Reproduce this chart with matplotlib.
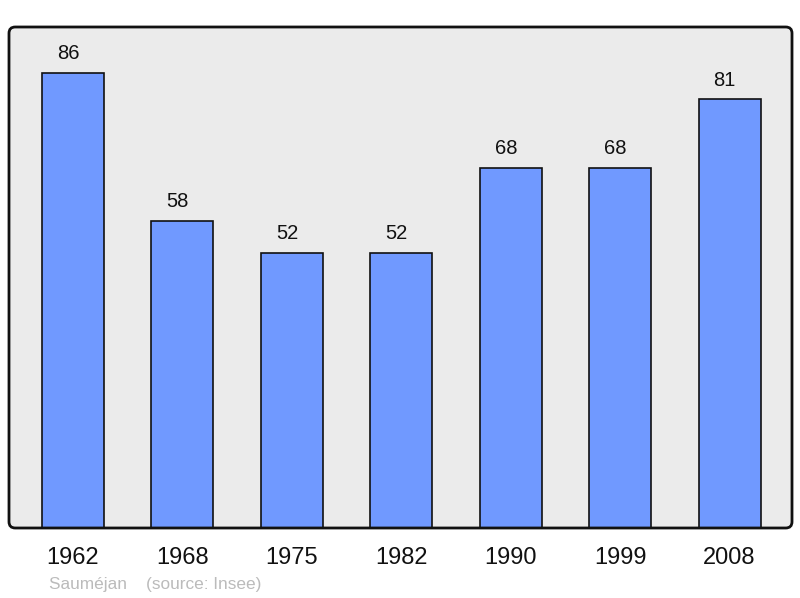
import matplotlib
matplotlib.use("Agg")
import matplotlib.pyplot as plt
from matplotlib.patches import FancyBboxPatch

years = ["1962", "1968", "1975", "1982", "1990", "1999", "2008"]
population = [86, 58, 52, 52, 68, 68, 81]

plt.rcParams['font.family'] = ['Liberation Sans', 'DejaVu Sans']

fig = plt.figure(figsize=(8, 5.98), dpi=100)
L, B, W, H = 9/800, 70/598, 783/800, 501/598
ax = fig.add_axes([L, B, W, H], zorder=1)
ax.set_facecolor('none')
face = FancyBboxPatch((L, B), W, H, boxstyle="round,pad=0,rounding_size=0.008",
                      mutation_aspect=(800/598), transform=fig.transFigure,
                      facecolor='#ebebeb', edgecolor='none', zorder=0)
fig.patches.append(face)
frame = FancyBboxPatch((0, 0), 1, 1, boxstyle="round,pad=0,rounding_size=0.008",
                       mutation_aspect=(783/501), transform=ax.transAxes,
                       facecolor='none', edgecolor='#111111', linewidth=2,
                       zorder=5, clip_on=False)
ax.add_patch(frame)

x = list(range(len(years)))
bars = ax.bar(x, population, width=0.567, color='#7099ff', edgecolor='#111111', linewidth=1.2, zorder=2)
for xi, v in zip(x, population):
    ax.annotate(str(v), (xi, v), xytext=(-3.6, 10), textcoords='offset points',
                ha='center', va='baseline', fontsize=14.5, color='#111111')

ax.set_xlim(-0.585, 6.57)
ax.set_ylim(0, 94.7)
for s in ax.spines.values():
    s.set_visible(False)
ax.set_yticks([])
ax.set_xticks(x)
ax.set_xticklabels(years, fontsize=17, color='#111111')
ax.tick_params(axis='x', length=0, pad=14)

fig.text(49/800, 1 - 584/598, "Sauméjan    (source: Insee)", fontsize=12.4,
         color='#bbbbbb', ha='left', va='center')

fig.savefig("out.png", dpi=100)
